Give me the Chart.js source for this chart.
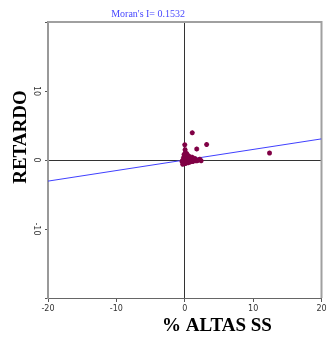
<!DOCTYPE html>
<html>
<head>
<meta charset="utf-8">
<script src="https://cdn.jsdelivr.net/npm/chart.js@4/dist/chart.umd.min.js"></script>
<style>
  html, body { margin: 0; padding: 0; background: #fff; }
  #wrap { width: 327px; height: 338px; position: relative; }
</style>
</head>
<body>
<div id="wrap"><canvas id="c"></canvas></div>
<script>
// puntos del diagrama de Moran (% ALTAS SS vs retardo espacial)
const altas = [1.1, 3.2, 1.75, 12.4, 0.0, 0.05, 0.1, -0.1, 0.2, 0.0, -0.2, 0.3, 0.5, 0.8, 1.0, 1.3, 1.6, 2.0, 2.4, 0.4,
  -0.3, -0.2, 0.1, 0.3, 0.6, 0.9, 0.0, -0.1, 0.2, 0.7, 1.1, 0.4, -0.4, 0.0, 1.5,
  -0.3, -0.1, 0.2, 0.5, 0.8, 1.2, 1.8, 0.6, 0.3, 2.2];
const retardo = [3.95, 2.25, 1.6, 1.0, 2.2, 1.5, 1.1, 0.8, 0.6, 0.4, 0.3, 0.2, 0.1, 0.3, 0.1, 0.0, -0.1, 0.0, -0.1, -0.2,
  -0.1, -0.4, -0.5, -0.3, -0.2, -0.1, 0.0, 0.1, 0.3, 0.5, 0.4, 0.7, -0.2, -0.3, 0.2,
  -0.6, -0.5, -0.4, -0.4, -0.3, -0.2, -0.1, 0.1, 0.9, 0.1];

// recta de regresion (pendiente = I de Moran)
const rectaX = [-20, 20];
const rectaY = [-3.06, 3.06];

const xTicks = [-20, -10, 0, 10, 20];
const yTicks = [-20, -10, 0, 10, 20];
const titulo = "Moran's I= 0.1532";

const puntos = altas.map((v, i) => ({ x: v, y: retardo[i] }));
const recta = rectaX.map((v, i) => ({ x: v, y: rectaY[i] }));

const marco = {
  id: 'marco',
  beforeDatasetsDraw(chart) {
    const { ctx, chartArea: a } = chart;
    ctx.save();
    ctx.strokeStyle = '#a0a0a0';
    ctx.lineWidth = 2;
    ctx.beginPath();
    ctx.moveTo(a.left, a.top);
    ctx.lineTo(a.right, a.top);
    ctx.lineTo(a.right, a.bottom);
    ctx.stroke();
    ctx.restore();
  },
  afterDraw(chart) {
    const { ctx } = chart;
    ctx.save();
    ctx.fillStyle = '#4848ff';
    ctx.font = '10px "Liberation Serif"';
    ctx.textAlign = 'right';
    ctx.textBaseline = 'middle';
    ctx.fillText(titulo, 185, 14);

    ctx.fillStyle = '#000';
    ctx.font = 'bold 19px "Liberation Serif"';
    ctx.textAlign = 'center';
    ctx.fillText('% ALTAS SS', 217, 326);

    ctx.translate(21, 137);
    ctx.rotate(-Math.PI / 2);
    ctx.fillText('RETARDO', 0, 0);
    ctx.restore();
  }
};

const gridCero = (c) => (c.tick && c.tick.value === 0 ? '#333' : 'rgba(0,0,0,0)');

new Chart(document.getElementById('c'), {
  type: 'scatter',
  data: {
    datasets: [
      {
        data: recta,
        showLine: true,
        borderColor: '#4040ff',
        borderWidth: 1,
        pointRadius: 0,
        order: 2
      },
      {
        data: puntos,
        pointStyle: 'star',
        pointRadius: 2.5,
        borderWidth: 1.5,
        borderColor: '#800045',
        backgroundColor: '#800045',
        order: 1
      }
    ]
  },
  options: {
    responsive: true,
    maintainAspectRatio: false,
    animation: false,
    layout: { padding: { top: 22, right: 0, left: 0, bottom: 0 } },
    plugins: { legend: { display: false }, title: { display: false }, tooltip: { enabled: false } },
    scales: {
      x: {
        type: 'linear',
        min: -20,
        max: 20,
        afterBuildTicks: (s) => { s.ticks = xTicks.map(v => ({ value: v })); },
        afterFit: (s) => { s.height = 40; s.paddingLeft = 0; s.paddingRight = 0; },
        ticks: { color: '#333', font: { family: 'DejaVu Sans', size: 8 }, padding: 2, maxRotation: 0 },
        grid: { color: gridCero, tickColor: '#555', tickLength: 4, lineWidth: 1 },
        border: { display: true, color: '#666', width: 1 }
      },
      y: {
        type: 'linear',
        min: -20,
        max: 20,
        afterBuildTicks: (s) => { s.ticks = yTicks.map(v => ({ value: v })); },
        afterFit: (s) => { s.width = 48; s.paddingTop = 0; s.paddingBottom = 0; },
        ticks: {
          color: '#333',
          font: { family: 'DejaVu Sans', size: 8 },
          padding: 2,
          minRotation: -90,
          maxRotation: -90,
          crossAlign: 'center',
          callback: (v) => (Math.abs(v) < 20 ? String(v) : '')
        },
        grid: { color: gridCero, tickColor: '#555', tickLength: 3, lineWidth: 1 },
        border: { display: true, color: '#999', width: 2 }
      }
    }
  },
  plugins: [marco]
});
</script>
</body>
</html>
